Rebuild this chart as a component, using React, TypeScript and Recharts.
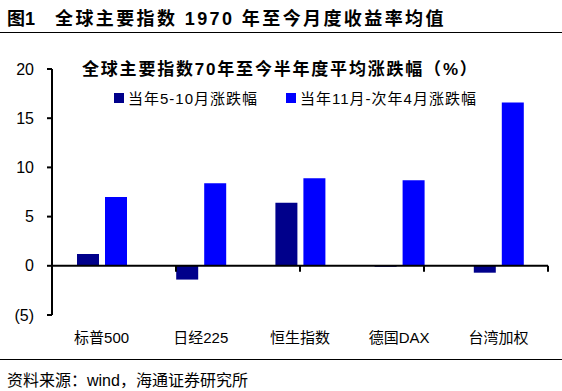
import React from "react";
import {
    BarChart,
    Bar,
    XAxis,
    YAxis,
    Legend,
    ReferenceLine
} from "recharts";

const categories = ["标普500", "日经225", "恒生指数", "德国DAX", "台湾加权"];
const mayToOct = [1.2, -1.4, 6.4, -0.1, -0.7];
const novToApr = [7.0, 8.4, 8.9, 8.7, 16.6];
const yTicks = [-5, 0, 5, 10, 15, 20];
const boundaries = [1, 2, 3, 4, 5];

const seriesNames = ["当年5-10月涨跌幅", "当年11月-次年4月涨跌幅"];
const seriesColors = ["#00008B", "#0000FF"];

const chartData = categories.map((name, i) => ({
    name,
    a: mayToOct[i],
    b: novToApr[i]
}));

const font = '"Liberation Sans", Arial, "Noto Sans CJK SC", sans-serif';

const LegendContent = () => (
    <div style={{ display: "flex", fontFamily: font, fontSize: 15, color: "#000" }}>
        {seriesNames.map((n, i) => (
            <div key={n} style={{ display: "flex", alignItems: "center", marginRight: 28 }}>
                <span style={{ width: 10, height: 10, background: seriesColors[i], marginRight: 4, display: "inline-block" }} />
                <span style={{ letterSpacing: 1 }}>{n}</span>
            </div>
        ))}
    </div>
);

const fmt = (v: number) => (v < 0 ? `(${Math.abs(v)})` : `${v}`);

export default function App() {
    return (
        <div style={{ position: "absolute", left: 0, top: 0, width: 562, height: 391, background: "#fff", fontFamily: font }}>
            <div style={{ position: "absolute", left: 7, top: 4, fontSize: 18, fontWeight: "bold" }}>
                图1
            </div>
            <div style={{ position: "absolute", left: 55, top: 4, fontSize: 18, fontWeight: "bold", letterSpacing: 2.4, whiteSpace: "nowrap" }}>
                全球主要指数 1970 年至今月度收益率均值
            </div>
            <div style={{ position: "absolute", left: 0, top: 32, width: 562, height: 0, borderTop: "1.5px solid #000" }} />
            <div style={{ position: "absolute", left: 82, top: 55, fontSize: 17, fontWeight: "bold", letterSpacing: 1.8 }}>
                全球主要指数70年至今半年度平均涨跌幅（%）
            </div>
            <BarChart
                width={562}
                height={391}
                data={chartData}
                margin={{ top: 69, right: 14, left: 0, bottom: 46 }}
                barSize={22}
                barGap={6}
                style={{ position: "absolute", left: 0, top: 0 }}
            >
                <XAxis
                    dataKey="name"
                    axisLine={false}
                    tickLine={false}
                    tickMargin={11}
                    tick={{ fill: "#000", fontSize: 15, fontFamily: font }}
                    interval={0}
                />
                <XAxis xAxisId="grid" type="number" domain={[0, 5]} allowDataOverflow hide />
                <YAxis
                    domain={[-5, 20]}
                    ticks={yTicks}
                    tickFormatter={fmt}
                    width={52}
                    tickSize={5}
                    tickMargin={13}
                    axisLine={{ stroke: "#000", strokeWidth: 2 }}
                    tickLine={{ stroke: "#000", strokeWidth: 2 }}
                    tick={{ fill: "#000", fontSize: 16, fontFamily: font }}
                    interval={0}
                />
                <Legend
                    layout="vertical"
                    align="center"
                    verticalAlign="middle"
                    content={<LegendContent />}
                    wrapperStyle={{ top: 87, left: 114, width: "auto" }}
                />
                <Bar dataKey="a" name={seriesNames[0]} fill={seriesColors[0]} isAnimationActive={false} />
                <Bar dataKey="b" name={seriesNames[1]} fill={seriesColors[1]} isAnimationActive={false} />
                <ReferenceLine y={0} stroke="#000" strokeWidth={2} />
                {boundaries.map((b) => (
                    <ReferenceLine
                        key={b}
                        xAxisId="grid"
                        segment={[{ x: b, y: 0 }, { x: b, y: -0.6 }]}
                        stroke="#000"
                        strokeWidth={2}
                    />
                ))}
            </BarChart>
            <div style={{ position: "absolute", left: 0, top: 359, width: 562, height: 0, borderTop: "1.5px solid #000" }} />
            <div style={{ position: "absolute", left: 7, top: 367, fontSize: 16 }}>
                资料来源：wind，海通证券研究所
            </div>
        </div>
    );
}
